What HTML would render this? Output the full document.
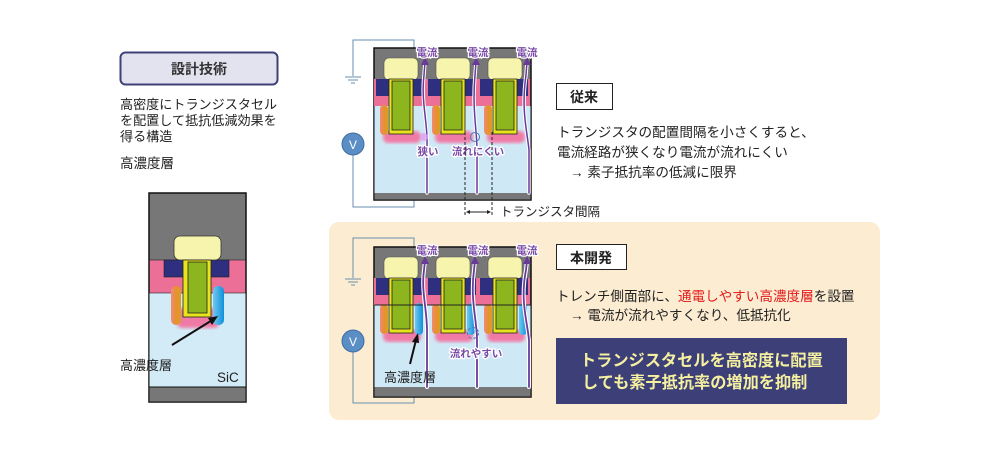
<!DOCTYPE html>
<html><head><meta charset="utf-8"><style>
body{margin:0;background:#fff;width:1000px;height:463px;overflow:hidden}
svg text{font-family:"Liberation Sans","Noto Sans CJK JP",sans-serif}
</style></head><body>
<svg width="1000" height="463" viewBox="0 0 1000 463" xmlns="http://www.w3.org/2000/svg">
<defs>
<linearGradient id="og" x1="0" x2="1"><stop offset="0" stop-color="#f08a7a"/><stop offset="0.5" stop-color="#e89030"/><stop offset="1" stop-color="#d8a020"/></linearGradient>
<linearGradient id="bg" x1="0" x2="1"><stop offset="0" stop-color="#70c8f0"/><stop offset="1" stop-color="#1090d8"/></linearGradient>
<filter id="bl"><feGaussianBlur stdDeviation="1.5"/></filter>
<g id="cellT">
 <rect x="10" y="10" width="34" height="22" rx="5" fill="#f7f4ae" stroke="#555" stroke-width="0.6"/>
 <rect x="0" y="31" width="52" height="27" fill="#ec6f98"/>
 <rect x="2" y="31" width="48" height="17" fill="#2e2f7e"/>
 <rect x="9" y="83" width="38" height="12" rx="5" fill="#f07aa6" filter="url(#bl)"/>
 <rect x="6" y="57" width="8" height="30" rx="4" fill="url(#og)"/>
 <rect x="15" y="31" width="24" height="55" fill="#e8e41c" stroke="#222" stroke-width="0.8"/>
 <rect x="18" y="33" width="18" height="49" fill="#8db61e" stroke="#222" stroke-width="0.8"/>
</g>
</defs>

<!-- left panel -->
<rect x="120.5" y="52.5" width="157" height="32" rx="5" fill="#e3e3ef" stroke="#3d4176" stroke-width="2"/>
<text x="199" y="74" font-size="14" font-weight="bold" fill="#333" text-anchor="middle">設計技術</text>
<text x="120" y="109" font-size="13.1" fill="#222">高密度にトランジスタセル</text>
<text x="120" y="125" font-size="13.1" fill="#222">を配置して抵抗低減効果を</text>
<text x="120" y="141" font-size="13.1" fill="#222">得る構造</text>
<text x="120" y="168" font-size="13.5" fill="#222">高濃度層</text>

<g>
 <rect x="149" y="193" width="97" height="209" fill="#777" stroke="#111" stroke-width="1.5"/>
 <rect x="149.5" y="293" width="96" height="94" fill="#d3eaf7"/>
 <rect x="149.5" y="260" width="96" height="33" fill="#ec6f98" stroke="#222" stroke-width="0.6"/>
 <rect x="164" y="260" width="65" height="17" fill="#2e2f7e" stroke="#222" stroke-width="0.6"/>
 <rect x="174" y="236" width="47" height="24" rx="6" fill="#f7f4ae" stroke="#333" stroke-width="0.8"/>
 <rect x="177" y="308" width="42" height="20" rx="5" fill="#f07aa6" filter="url(#bl)"/>
 <rect x="171" y="286" width="10" height="39" rx="5" fill="url(#og)"/>
 <rect x="213" y="286" width="11" height="39" rx="5" fill="url(#bg)"/>
 <rect x="183" y="260" width="28" height="57" fill="#e8e41c" stroke="#222" stroke-width="0.8"/>
 <rect x="188" y="262" width="19" height="51" fill="#8db61e" stroke="#222" stroke-width="0.8"/>
 <rect x="149.5" y="387" width="96" height="14.5" fill="#777"/>
 <line x1="149" y1="387" x2="246" y2="387" stroke="#111"/>
 <line x1="172" y1="345" x2="214" y2="319" stroke="#111" stroke-width="2"/>
 <polygon points="218,316 208,318 212,325" fill="#111"/>
 <text x="120" y="370" font-size="13" fill="#222">高濃度層</text>
 <text x="217" y="382" font-size="13.5" fill="#222">SiC</text>
</g>

<!-- top diagram -->
<polyline points="353,76 353,40 414,40 414,48" fill="none" stroke="#6a8fb0"/>
<line x1="345" y1="77" x2="361" y2="77" stroke="#6a8fb0"/><line x1="348" y1="80" x2="358" y2="80" stroke="#6a8fb0"/><line x1="351" y1="83" x2="355" y2="83" stroke="#6a8fb0"/>
<polyline points="353,153 353,207 414,207 414,200" fill="none" stroke="#6a8fb0"/>
<circle cx="353" cy="144" r="11" fill="#5b8ec4" stroke="#3b6ea4"/>
<text x="353" y="149" font-size="12" fill="#fff" text-anchor="middle">V</text>
<rect x="374" y="48" width="157" height="152" fill="#777" stroke="#111" stroke-width="1.5"/>
<rect x="374.5" y="106" width="156" height="87" fill="#cfe8f6"/>
<use href="#cellT" x="374" y="48"/><use href="#cellT" x="426" y="48"/><use href="#cellT" x="478" y="48"/>
<rect x="374.5" y="193" width="156" height="6.5" fill="#777"/>
<g fill="none" stroke-linecap="round">
<g stroke="#fff" stroke-width="3.5">
<path d="M427,193 L427,140 C427,120 421,100 424,75 L425,62"/>
<path d="M477,193 L477,150 C477,130 472,110 475,75 L476,62"/>
<path d="M529,193 L529,150 C527,130 521,110 526,75 L527,62"/></g>
<g stroke="#6a3a9a" stroke-width="1.5">
<path d="M427,193 L427,140 C427,120 421,100 424,75 L425,62"/>
<path d="M477,193 L477,150 C477,130 472,110 475,75 L476,62"/>
<path d="M529,193 L529,150 C527,130 521,110 526,75 L527,62"/></g>
</g>
<g fill="#6a3a9a"><polygon points="425,57 421,65 429,65"/><polygon points="476,57 472,65 480,65"/><polygon points="527,57 523,65 531,65"/></g>
<g font-size="10.5" font-weight="bold" fill="#7a4aa8" text-anchor="middle" stroke="#fff" stroke-width="2.5" paint-order="stroke">
<text x="427" y="56">電流</text><text x="478" y="56">電流</text><text x="527" y="56">電流</text>
<text x="428" y="155">狭い</text><text x="478" y="155">流れにくい</text></g>
<circle cx="424" cy="137" r="4" fill="#e0a0f0" opacity="0.8"/>
<circle cx="475" cy="137" r="4.5" fill="none" stroke="#4a7ac0"/>
<g stroke="#222" stroke-dasharray="3,2"><line x1="465" y1="132" x2="465" y2="216"/><line x1="492" y1="132" x2="492" y2="216"/></g>
<line x1="468" y1="212" x2="489" y2="212" stroke="#222"/><polygon points="466,212 470,210 470,214" fill="#222"/><polygon points="491,212 487,210 487,214" fill="#222"/>
<text x="500" y="216" font-size="12.5" fill="#222">トランジスタ間隔</text>

<rect x="556.5" y="83.5" width="56" height="26" fill="#fff" stroke="#222"/>
<text x="584" y="102" font-size="14" font-weight="bold" fill="#222" text-anchor="middle">従来</text>
<text x="557" y="137" font-size="13.6" fill="#222">トランジスタの配置間隔を小さくすると、</text>
<text x="557" y="157" font-size="13.6" fill="#222">電流経路が狭くなり電流が流れにくい</text>
<text x="570" y="177" font-size="13.6" fill="#222">→  素子抵抗率の低減に限界</text>

<!-- bottom panel -->
<rect x="329" y="222" width="551" height="198" rx="10" fill="#fcecd2"/>
<polyline points="353,278 353,238 414,238 414,247" fill="none" stroke="#6a8fb0"/>
<line x1="345" y1="279" x2="361" y2="279" stroke="#6a8fb0"/><line x1="348" y1="282" x2="358" y2="282" stroke="#6a8fb0"/><line x1="351" y1="285" x2="355" y2="285" stroke="#6a8fb0"/>
<polyline points="353,350 353,403 414,403 414,397" fill="none" stroke="#6a8fb0"/>
<circle cx="353" cy="341" r="11" fill="#5b8ec4" stroke="#3b6ea4"/>
<text x="353" y="346" font-size="12" fill="#fff" text-anchor="middle">V</text>
<rect x="374" y="247" width="157" height="150" fill="#777" stroke="#111" stroke-width="1.5"/>
<rect x="374.5" y="305" width="156" height="82" fill="#cfe8f6"/>
<use href="#cellT" x="374" y="247"/><use href="#cellT" x="426" y="247"/><use href="#cellT" x="478" y="247"/>
<g fill="url(#bg)"><rect x="415" y="303" width="8" height="32" rx="4"/><rect x="467" y="303" width="8" height="32" rx="4"/><rect x="519" y="303" width="8" height="32" rx="4"/></g>
<line x1="374.5" y1="305" x2="530.5" y2="305" stroke="#222"/>
<rect x="374.5" y="387" width="156" height="9.5" fill="#777"/>
<g fill="none" stroke-linecap="round">
<g stroke="#fff" stroke-width="4">
<path d="M427,387 L427,330 C427,310 421,290 424,270 L425,261"/>
<path d="M477,387 L477,340 C477,320 470,300 474,270 L475,261"/>
<path d="M529,387 L529,340 C527,320 520,300 526,270 L527,261"/></g>
<g stroke="#6a3a9a" stroke-width="1.8">
<path d="M427,387 L427,330 C427,310 421,290 424,270 L425,261"/>
<path d="M477,387 L477,340 C477,320 470,300 474,270 L475,261"/>
<path d="M529,387 L529,340 C527,320 520,300 526,270 L527,261"/></g>
</g>
<g fill="#6a3a9a"><polygon points="425,256 421,264 429,264"/><polygon points="475,256 471,264 479,264"/><polygon points="527,256 523,264 531,264"/></g>
<circle cx="473" cy="333" r="5.5" fill="none" stroke="#4a7ac0" stroke-dasharray="3,2"/>
<g font-size="10.5" font-weight="bold" fill="#7a4aa8" text-anchor="middle" stroke="#fff" stroke-width="2.5" paint-order="stroke">
<text x="427" y="254">電流</text><text x="478" y="254">電流</text><text x="527" y="254">電流</text>
<text x="476" y="357">流れやすい</text></g>
<line x1="410" y1="364" x2="416" y2="340" stroke="#111" stroke-width="2"/><polygon points="418,333 412,342 419,343" fill="#111"/>
<text x="384" y="382" font-size="13" fill="#222">高濃度層</text>

<rect x="556.5" y="244.5" width="70" height="25" fill="#fff" stroke="#222"/>
<text x="591" y="263" font-size="14" font-weight="bold" fill="#222" text-anchor="middle">本開発</text>
<text x="556" y="301" font-size="13.6" fill="#222">トレンチ側面部に、<tspan fill="#e21a1a">通電しやすい高濃度層</tspan>を設置</text>
<text x="570" y="320" font-size="13.6" fill="#222">→ 電流が流れやすくなり、低抵抗化</text>
<rect x="556" y="338" width="291" height="66" fill="#3c3f78"/>
<text x="580" y="366" font-size="16.2" font-weight="bold" fill="#f5f0a0">トランジスタセルを高密度に配置</text>
<text x="582" y="388" font-size="16.2" font-weight="bold" fill="#f5f0a0">しても素子抵抗率の増加を抑制</text>
</svg>
</body></html>
